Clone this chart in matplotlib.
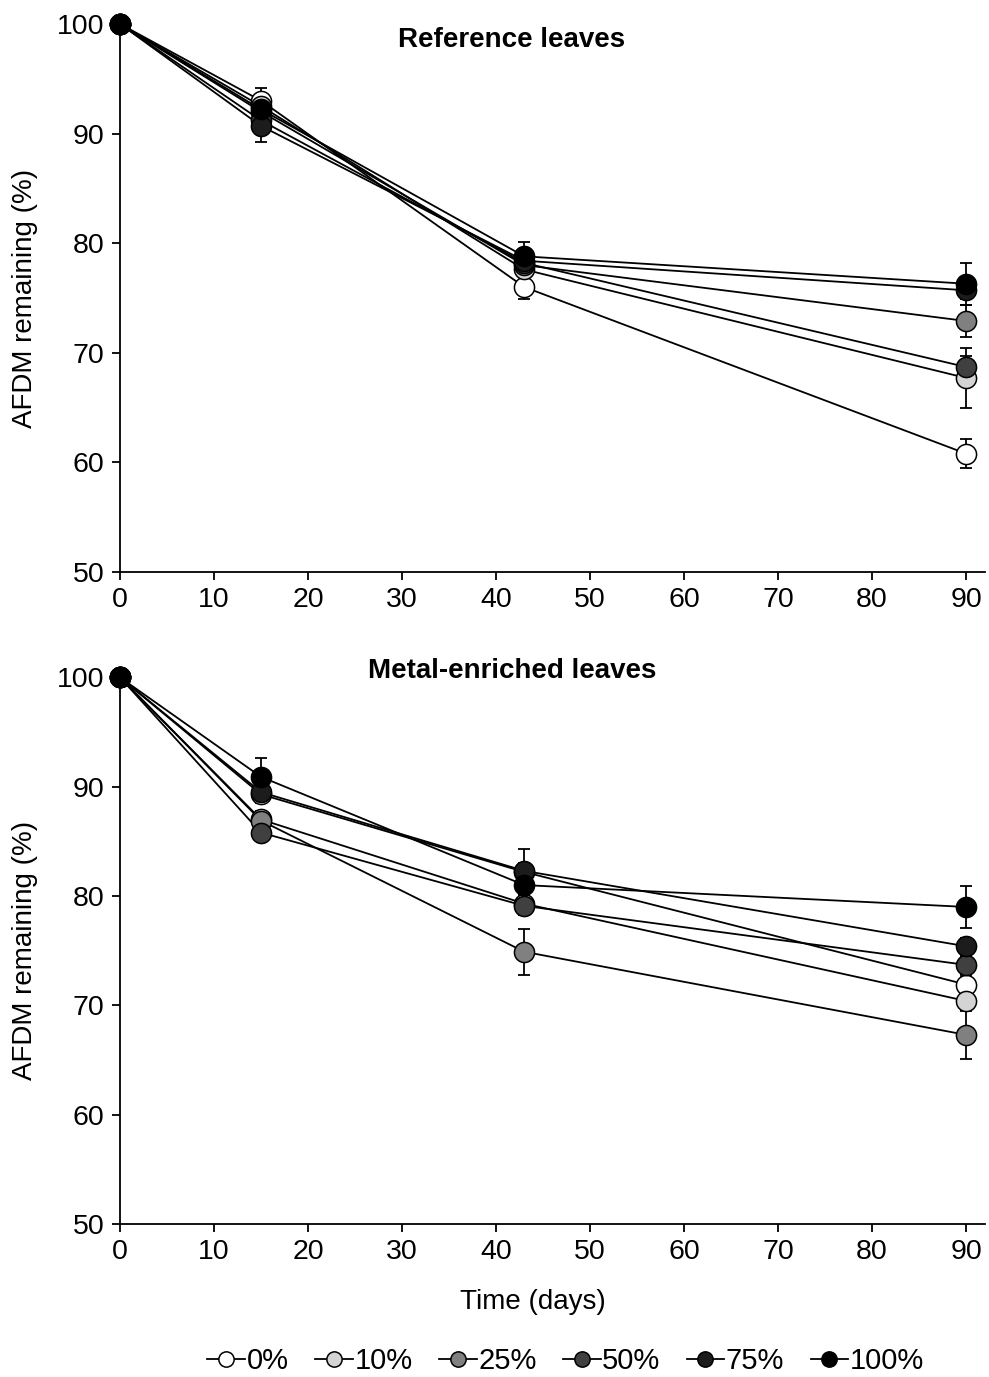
import matplotlib
matplotlib.use("Agg")
import matplotlib.pyplot as plt
from matplotlib.lines import Line2D
import numpy as np

plt.rcParams['font.family'] = ['Liberation Sans', 'DejaVu Sans']

days = [0, 15, 43, 90]
labels = ['0%', '10%', '25%', '50%', '75%', '100%']
colours = ['#ffffff', '#d4d4d4', '#808080', '#404040', '#1c1c1c', '#000000']

# Reference leaves: AFDM remaining (%) per treatment, and SE
ref_vals = [
    [100, 93.0, 76.0, 60.8],
    [100, 92.5, 77.6, 67.7],
    [100, 92.0, 78.0, 72.9],
    [100, 91.2, 78.2, 68.7],
    [100, 90.7, 78.4, 75.7],
    [100, 92.2, 78.8, 76.3],
]
ref_err = [
    [0, 1.2, 1.1, 1.3],
    [0, 0.8, 0.6, 2.7],
    [0, 0.8, 0.6, 1.5],
    [0, 0.8, 0.6, 1.0],
    [0, 1.5, 0.6, 0.8],
    [0, 0.8, 1.3, 1.9],
]

# Metal-enriched leaves
met_vals = [
    [100, 89.3, 82.2, 71.9],
    [100, 87.0, 79.3, 70.4],
    [100, 86.9, 74.9, 67.3],
    [100, 85.8, 79.1, 73.7],
    [100, 89.5, 82.3, 75.4],
    [100, 90.9, 81.0, 79.0],
]
met_err = [
    [0, 0.8, 0.8, 0.8],
    [0, 0.8, 0.8, 0.8],
    [0, 0.8, 2.1, 2.2],
    [0, 0.8, 0.8, 0.8],
    [0, 0.8, 2.0, 0.8],
    [0, 1.7, 0.8, 1.9],
]

fig = plt.figure(figsize=(9.89, 13.77), dpi=100)
ax1 = fig.add_axes([0.1213, 0.5846, 0.8746, 0.398])
ax2 = fig.add_axes([0.1213, 0.1111, 0.8746, 0.397])


def draw(ax, vals, errs, title, ty):
    for i in range(len(labels)):
        ax.plot(days, vals[i], color='black', lw=1.3, zorder=1, clip_on=False)
    for i in range(len(labels)):
        ax.errorbar(days, vals[i], yerr=errs[i], fmt='none', ecolor='black',
                    elinewidth=1.3, capsize=4, capthick=1.3, zorder=2, clip_on=False)
    for i in range(len(labels)):
        ax.plot(days, vals[i], 'o', ms=14.5, mfc=colours[i], mec='black',
                mew=1.1, zorder=3 + i, clip_on=False)
    ax.set_xlim(0, 92)
    ax.set_ylim(50, 100)
    ax.set_xticks(range(0, 91, 10))
    ax.set_yticks(range(50, 101, 10))
    ax.spines['top'].set_visible(False)
    ax.spines['right'].set_visible(False)
    ax.spines['left'].set_linewidth(1.3)
    ax.spines['bottom'].set_linewidth(1.3)
    ax.tick_params(direction='out', length=6, width=1.3, labelsize=20.5, pad=5)
    ax.set_ylabel('AFDM remaining (%)', fontsize=20, labelpad=14)
    ax.text(41.7, ty, title, fontsize=20, fontweight='bold', ha='center', va='center')


draw(ax1, ref_vals, ref_err, 'Reference leaves', 98.5)
draw(ax2, met_vals, met_err, 'Metal-enriched leaves', 100.6)
ax2.set_xlabel('Time (days)', fontsize=20)
ax2.xaxis.set_label_coords(0.477, -0.118)

handles = [Line2D([], [], color='black', lw=1.3, marker='o', ms=11, mfc=c,
                  mec='black', mew=1.1) for c in colours]
fig.legend(handles, labels, loc='center', bbox_to_anchor=(0.572, 0.0116), ncol=6,
           frameon=False, fontsize=21, handlelength=1.3, handletextpad=0.05,
           columnspacing=0.9)

fig.savefig('out.png', dpi=100, facecolor='white')
